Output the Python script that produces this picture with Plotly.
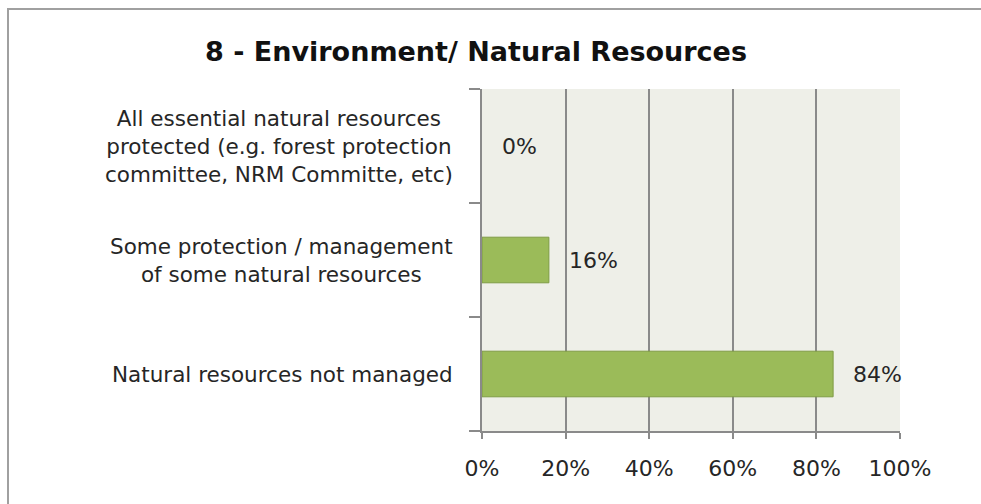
import plotly.graph_objects as go

# Survey categories (bottom to top as drawn) and their shares in percent
categories = [
    "Natural resources not managed",
    "Some protection / management<br>of some natural resources",
    "All essential natural resources<br>protected (e.g. forest protection<br>committee, NRM Committe, etc)",
]
shares = [84, 16, 0]
x_ticks = [0, 20, 40, 60, 80, 100]
x_tick_labels = ["0%", "20%", "40%", "60%", "80%", "100%"]
title_text = "8 - Environment/ Natural Resources"

BAR = "#9BBB59"
BAR_EDGE = "#7E9C44"
GRID = "#8A8A8A"
TEXT = "#262626"
FONT = "DejaVu Sans"

# Empty bars get no outline so nothing shows at zero
edge_widths = [1 if v > 0 else 0 for v in shares]

fig = go.Figure(
    go.Bar(
        x=shares,
        y=categories,
        orientation="h",
        marker=dict(color=BAR, line=dict(color=BAR_EDGE, width=edge_widths)),
        hoverinfo="skip",
    )
)

# Value labels just past the end of each bar
for cat, val in zip(categories, shares):
    fig.add_annotation(
        x=val, y=cat, xref="x", yref="y",
        text=f"{val}%", showarrow=False,
        xanchor="left", yanchor="middle", xshift=18,
        font=dict(family=FONT, size=22, color=TEXT),
    )

# Centered, multi-line category labels left of the axis
for cat in categories:
    fig.add_annotation(
        x=0, y=cat, xref="paper", yref="y",
        text=cat, showarrow=False, align="center",
        xanchor="right", yanchor="middle", xshift=-27,
        font=dict(family=FONT, size=21.5, color=TEXT),
    )

# Outer chart frame
fig.add_shape(
    type="rect", xref="paper", yref="paper",
    x0=(8 - 482) / 418, x1=(995 - 482) / 418,
    y0=(431 - 515) / 342, y1=1 + (89 - 9) / 342,
    line=dict(color="#A0A0A0", width=2), fillcolor="rgba(0,0,0,0)",
    layer="below",
)

fig.update_layout(
    width=981, height=504,
    margin=dict(l=482, r=81, t=89, b=73),
    paper_bgcolor="white",
    plot_bgcolor="#EEEFE8",
    bargap=0.6,
    showlegend=False,
    title=dict(
        text=f"<b>{title_text}</b>",
        x=476 / 981, xanchor="center", xref="container",
        y=1 - 52 / 504, yanchor="middle", yref="container",
        font=dict(family=FONT, size=27, color="#111111"),
    ),
    xaxis=dict(
        range=[0, 100], tickvals=x_ticks, ticktext=x_tick_labels,
        showgrid=True, gridcolor=GRID, gridwidth=2,
        showline=True, linecolor=GRID, linewidth=2,
        ticks="outside", ticklen=6, tickcolor=GRID, tickwidth=2,
        ticklabelstandoff=11,
        tickfont=dict(family=FONT, size=22, color=TEXT),
        zeroline=False, fixedrange=True,
    ),
    yaxis=dict(
        categoryorder="array", categoryarray=categories,
        showticklabels=False,
        ticks="outside", ticklen=11, tickcolor=GRID, tickwidth=2,
        tickson="boundaries",
        showline=True, linecolor=GRID, linewidth=2,
        showgrid=False, zeroline=False, fixedrange=True,
    ),
)

fig.write_html("out.html", config={"displayModeBar": False})
